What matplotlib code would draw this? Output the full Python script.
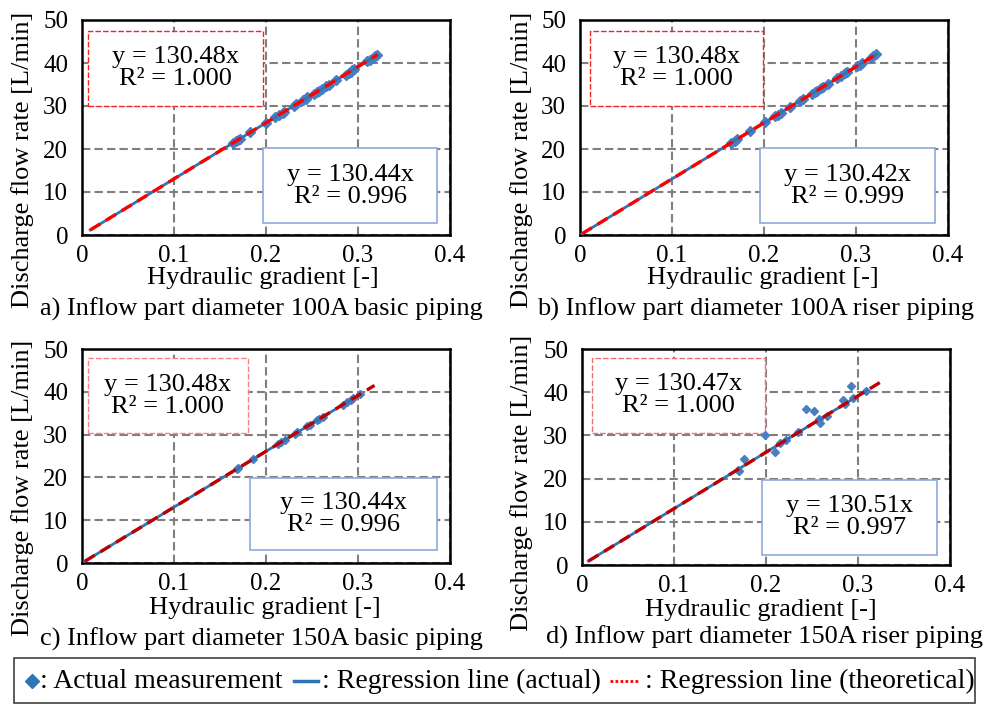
import matplotlib
matplotlib.use("Agg")
import matplotlib.pyplot as plt
from matplotlib.patches import Rectangle
from matplotlib.lines import Line2D

plt.rcParams['font.family'] = ['Liberation Serif', 'DejaVu Serif']

W, H = 991, 706

# ---- data -------------------------------------------------------------
captions = [
    "a) Inflow part diameter 100A basic piping",
    "b) Inflow part diameter 100A riser piping",
    "c) Inflow part diameter 150A basic piping",
    "d) Inflow part diameter 150A riser piping",
]
slope_actual = [130.44, 130.42, 130.44, 130.51]
r2_actual = [0.996, 0.999, 0.996, 0.997]
slope_theory = [130.48, 130.48, 130.48, 130.47]
r2_theory = [1.000, 1.000, 1.000, 1.000]

# range of gradient over which each regression line is drawn
actual_x0 = [0.009, 0.002, 0.003, 0.007]
actual_x1 = [0.321, 0.322, 0.302, 0.310]
theory_x0 = [0.009, 0.002, 0.003, 0.007]
theory_x1 = [0.321, 0.322, 0.318, 0.324]

# measured points (hydraulic gradient, discharge flow rate)
grad_a = [0.164, 0.167, 0.170, 0.172, 0.183, 0.200, 0.210, 0.214, 0.218, 0.220,
          0.230, 0.233, 0.240, 0.243, 0.245, 0.252, 0.255, 0.258, 0.261, 0.265,
          0.268, 0.276, 0.287, 0.290, 0.292, 0.294, 0.296, 0.310, 0.313, 0.316,
          0.319, 0.321]
flow_a = [21.4, 21.8, 22.2, 22.4, 23.9, 26.1, 27.4, 27.9, 28.4, 28.7,
          30.0, 30.4, 31.3, 31.7, 32.0, 32.9, 33.2, 33.6, 34.0, 34.6,
          34.9, 36.0, 37.2, 37.6, 38.0, 38.4, 38.6, 40.4, 40.8, 41.2,
          41.6, 41.9]

grad_b = [0.164, 0.168, 0.171, 0.185, 0.201, 0.212, 0.215, 0.218, 0.228, 0.239,
          0.242, 0.252, 0.255, 0.258, 0.262, 0.264, 0.270, 0.279, 0.284, 0.288,
          0.290, 0.301, 0.304, 0.306, 0.316, 0.319, 0.322]
flow_b = [21.4, 21.9, 22.3, 24.1, 26.2, 27.6, 28.0, 28.4, 29.7, 31.2,
          31.6, 32.9, 33.2, 33.6, 34.2, 34.4, 35.2, 36.4, 37.0, 37.6,
          37.8, 39.3, 39.6, 39.9, 41.2, 41.6, 42.0]

grad_c = [0.168, 0.170, 0.186, 0.213, 0.216, 0.221, 0.231, 0.234, 0.245, 0.248,
          0.255, 0.258, 0.262, 0.284, 0.288, 0.292, 0.295, 0.302]
flow_c = [21.9, 22.2, 24.3, 27.8, 28.2, 28.8, 30.1, 30.5, 32.0, 32.3,
          33.3, 33.6, 34.2, 37.0, 37.6, 38.1, 38.5, 39.4]

grad_d = [0.170, 0.171, 0.176, 0.199, 0.210, 0.215, 0.222, 0.235, 0.244, 0.252,
          0.258, 0.259, 0.266, 0.284, 0.286, 0.292, 0.295, 0.309]
flow_d = [22.0, 21.8, 24.5, 30.0, 26.2, 28.2, 29.0, 30.9, 36.1, 35.7,
          33.7, 32.9, 34.5, 38.2, 37.3, 41.4, 38.6, 40.3]

grads = [grad_a, grad_b, grad_c, grad_d]
flows = [flow_a, flow_b, flow_c, flow_d]

x_ticks = [0, 0.1, 0.2, 0.3, 0.4]
x_ticklabels = ["0", "0.1", "0.2", "0.3", "0.4"]
y_ticks = [0, 10, 20, 30, 40, 50]

xlabel = "Hydraulic gradient [-]"
ylabel = "Discharge flow rate [L/min]"
legend_texts = [": Actual measurement", ": Regression line (actual)",
                ": Regression line (theoretical)"]

# ---- layout (pixel boxes: left, top, right, bottom) --------------------
axes_px = [(82, 20, 450, 235), (580, 20, 948, 235),
           (82, 349, 450, 563), (582, 349, 950, 565)]
# annotation boxes in data coords: (x0, x1, y0, y1)
theory_box = [(0.0065, 0.197, 30.0, 47.5), (0.011, 0.199, 30.0, 47.5),
              (0.0065, 0.180, 30.3, 47.8), (0.0105, 0.199, 30.5, 48.0)]
actual_box = [(0.197, 0.386, 2.8, 20.2), (0.196, 0.386, 2.8, 20.2),
              (0.183, 0.386, 3.0, 19.9), (0.196, 0.386, 2.3, 19.7)]
theory_box_color = ['#ff2020', '#ff2020', '#ff8080', '#f07070']
theory_line_color = ['#ff0000', '#ff0000', '#c00000', '#c00000']
marker_size = [5.5, 5.5, 4.5, 4.0]
caption_px = [(261, 309), (756, 309), (261, 639), (764, 637)]
xlabel_px = [(263, 278), (763, 278), (265, 608), (761, 610)]
ylabel_px = [(23, 160), (522, 160), (23, 488), (522, 483)]

BLUE = '#2e75b6'
MARK = '#4a7ec2'
BOXBLUE = '#8eaadb'
GRID = '#7f7f7f'


def fx(px):
    return px / W


def fy(py):
    return 1 - py / H


fig = plt.figure(figsize=(W / 100, H / 100), dpi=100)
fig.patch.set_facecolor('white')

for i in range(4):
    l, t, r, b = axes_px[i]
    ax = fig.add_axes([fx(l), fy(b), (r - l) / W, (b - t) / H])
    ax.set_xlim(0, 0.4)
    ax.set_ylim(0, 50)
    ax.set_xticks(x_ticks)
    ax.set_xticklabels(x_ticklabels)
    ax.set_yticks(y_ticks)
    ax.tick_params(length=0, labelsize=18, pad=7)
    ax.tick_params(axis='y', pad=10)
    ax.grid(True, color=GRID, linestyle=(0, (4, 2)), linewidth=1.5)
    ax.set_axisbelow(True)
    for s in ax.spines.values():
        s.set_linewidth(1.8)
        s.set_color('black')

    # regression lines
    sa = slope_actual[i]
    st = slope_theory[i]
    ax.plot(grads[i], flows[i], linestyle='none', marker='D',
            markersize=marker_size[i], color=MARK, zorder=3)
    ax.plot([actual_x0[i], actual_x1[i]], [sa * actual_x0[i], sa * actual_x1[i]],
            color=BLUE, linewidth=2.0, zorder=4)
    ax.plot([theory_x0[i], theory_x1[i]], [st * theory_x0[i], st * theory_x1[i]],
            color=theory_line_color[i], linewidth=2.4,
            linestyle=(0, (3.5, 2)), zorder=5)

    # equation boxes
    x0, x1, y0, y1 = theory_box[i]
    ax.add_patch(Rectangle((x0, y0), x1 - x0, y1 - y0, facecolor='white',
                           edgecolor=theory_box_color[i], linewidth=1.0,
                           linestyle=(0, (4, 1.5)), zorder=2))
    ax.text((x0 + x1) / 2, (y0 + y1) / 2,
            f"y = {st:.2f}x\nR\u00b2 = {r2_theory[i]:.3f}",
            ha='center', va='center', fontsize=19, linespacing=1.0, zorder=6)
    x0, x1, y0, y1 = actual_box[i]
    ax.add_patch(Rectangle((x0, y0), x1 - x0, y1 - y0, facecolor='white',
                           edgecolor=BOXBLUE, linewidth=1.2, zorder=2))
    ax.text((x0 + x1) / 2, (y0 + y1) / 2,
            f"y = {sa:.2f}x\nR\u00b2 = {r2_actual[i]:.3f}",
            ha='center', va='center', fontsize=19, linespacing=1.0, zorder=6)

    fig.text(fx(xlabel_px[i][0]), fy(xlabel_px[i][1]), xlabel,
             ha='center', va='center', fontsize=19)
    fig.text(fx(ylabel_px[i][0]), fy(ylabel_px[i][1]), ylabel,
             ha='center', va='center', rotation=90, fontsize=19)
    fig.text(fx(caption_px[i][0]), fy(caption_px[i][1]), captions[i],
             ha='center', va='center', fontsize=19)

# ---- legend strip -----------------------------------------------------
fig.patches.append(Rectangle((fx(14), fy(703)), fx(975) - fx(14),
                             fy(658) - fy(703), transform=fig.transFigure,
                             facecolor='white', edgecolor='#404040',
                             linewidth=1.2))
ly = fy(681)
fig.lines.append(Line2D([fx(32)], [ly], marker='D', markersize=7,
                        color=BLUE, linestyle='none',
                        transform=fig.transFigure))
fig.text(fx(40), ly, legend_texts[0], ha='left', va='center', fontsize=20)
fig.lines.append(Line2D([fx(294), fx(318)], [ly, ly], color=BLUE,
                        linewidth=2.5, transform=fig.transFigure))
fig.text(fx(322), ly, legend_texts[1], ha='left', va='center', fontsize=20)
fig.lines.append(Line2D([fx(610), fx(640)], [ly, ly], color='#ff0000',
                        linewidth=2.0, linestyle=(0, (1, 0.8)),
                        transform=fig.transFigure))
fig.text(fx(645), ly, legend_texts[2], ha='left', va='center', fontsize=20)

fig.savefig("out.png", dpi=100)
